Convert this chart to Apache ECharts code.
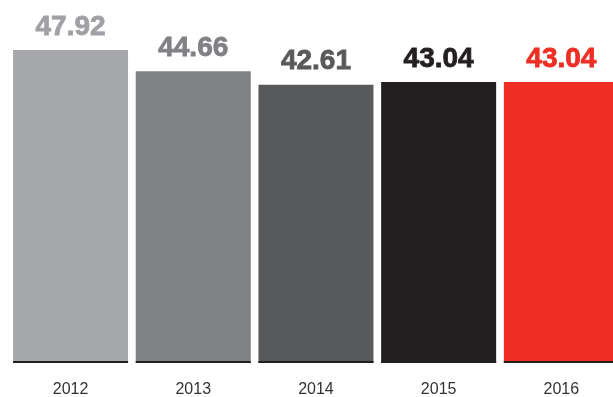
<!DOCTYPE html>
<html>
<head>
<meta charset="utf-8">
<style>
  html, body { margin: 0; padding: 0; background: #ffffff; }
  #chart { width: 613px; height: 397px; }
</style>
<script src="https://cdn.jsdelivr.net/npm/echarts@6/dist/echarts.min.js"></script>
</head>
<body>
<div id="chart"></div>
<script>
// Yearly values, one bar per year
const years = ['2012', '2013', '2014', '2015', '2016'];
const values = [47.92, 44.66, 42.61, 43.04, 43.04];
const barColors = ['#a6a7aa', '#808184', '#58595b', '#231f20', '#ee2e24'];
const labelColors = ['#a0a1a4', '#808184', '#58595b', '#231f20', '#ee2e24'];

const chart = echarts.init(document.getElementById('chart'), null, { renderer: 'canvas' });

const mainData = values.map((v, i) => ({
  value: v,
  itemStyle: { color: barColors[i] },
  // a thin stroke in the same colour gives the value figures a heavier weight
  label: { color: labelColors[i], textBorderColor: labelColors[i], textBorderWidth: 0.8 }
}));

// Thin dark rule drawn across the foot of every bar
const footData = values.map(() => 0.3);

chart.setOption({
  animation: false,
  grid: { left: 9.2, width: 613.5, top: 36.5, bottom: 34, outerBoundsMode: 'none', containLabel: false },
  xAxis: {
    type: 'category',
    data: years,
    axisLine: { show: false },
    axisTick: { show: false },
    axisLabel: {
      margin: 19,
      fontFamily: 'Liberation Sans, Arial, sans-serif',
      fontSize: 16,
      color: '#333333'
    }
  },
  yAxis: {
    type: 'value',
    min: 0,
    max: 50,
    show: false,
    splitLine: { show: false }
  },
  series: [
    {
      type: 'bar',
      data: mainData,
      barWidth: 115,
      label: {
        show: true,
        position: 'top',
        distance: 9,
        fontFamily: 'Liberation Sans, Arial, sans-serif',
        fontWeight: 'bold',
        fontSize: 28,
        formatter: p => p.value.toFixed(2)
      }
    },
    {
      type: 'bar',
      data: footData,
      barWidth: 115,
      barGap: '-100%',
      silent: true,
      itemStyle: { color: '#231f20' }
    }
  ]
});
</script>
</body>
</html>
